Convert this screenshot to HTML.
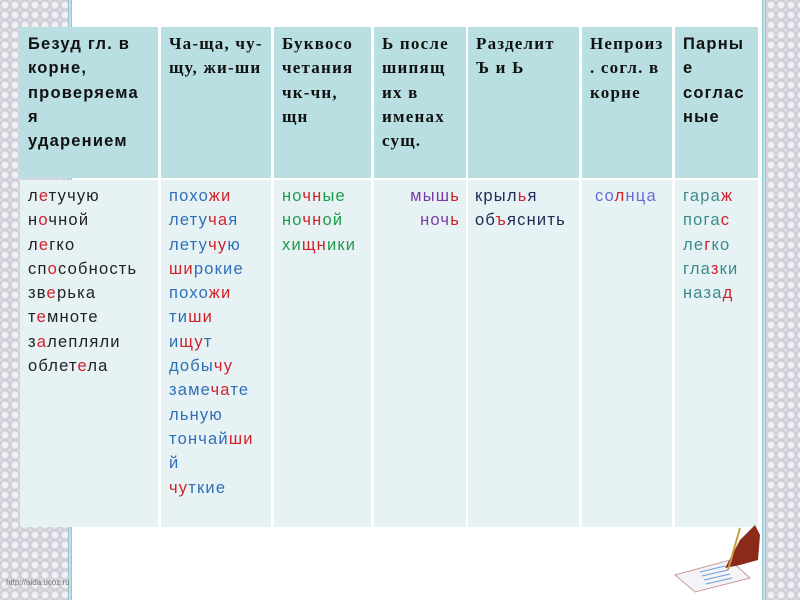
<!DOCTYPE html>
<html><head><meta charset="utf-8"><style>
body{margin:0;width:800px;height:600px;overflow:hidden;background:#fff;position:relative;font-family:"Liberation Sans","DejaVu Sans",sans-serif;}
.strip{position:absolute;top:0;height:600px;background-color:#dcdce4;
background-image:radial-gradient(circle at 50% 50%,#f2f2f6 35%,#c8c8d2 65%,#dcdce4 80%);background-size:10px 10px;}
.line{position:absolute;top:0;height:600px;width:4px;background:linear-gradient(90deg,#7fb9c9,#d7eef3,#7fb9c9);}
.c{position:absolute;box-sizing:border-box;padding:8px 0 0 8px;font-size:16.5px;letter-spacing:1.2px;line-height:24.3px;white-space:nowrap;}
.h{top:27px;height:151px;background:#b9dfe3;color:#111;font-weight:bold;padding-top:5px}
.b{top:180px;height:347px;background:#e7f2f5;padding-top:4px}
.s{font-family:"Liberation Serif",serif;font-size:17px;letter-spacing:1.2px}
.r{color:#d0222a}.bl{color:#2f6fb8}.g{color:#1e9c4a}.p{color:#7a3aa6}.n{color:#1d2a55}.v{color:#6a6ad0}.t{color:#3a8c8a}.k{color:#222}
</style></head><body>
<div class="strip" style="left:0;width:68px"></div>
<div class="line" style="left:68px"></div>
<div class="strip" style="left:766px;width:34px"></div>
<div class="line" style="left:762px"></div>

<div class="c h" style="left:20px;width:138px">Безуд гл. в<br>корне,<br>проверяема<br>я<br>ударением</div>
<div class="c h s" style="left:161px;width:110px">Ча-ща, чу-<br>щу, жи-ши</div>
<div class="c h s" style="left:274px;width:97px">Буквосо<br>четания<br>чк-чн,<br>щн</div>
<div class="c h s" style="left:374px;width:92px">Ь после<br>шипящ<br>их в<br>именах<br>сущ.</div>
<div class="c h s" style="left:468px;width:111px">Разделит<br>Ъ и Ь</div>
<div class="c h s" style="left:582px;width:90px">Непроиз<br>. согл. в<br>корне</div>
<div class="c h" style="left:675px;width:83px">Парны<br>е<br>соглас<br>ные</div>

<div class="c b k" style="left:20px;width:138px">л<span class="r">е</span>тучую<br>н<span class="r">о</span>чной<br>л<span class="r">е</span>гко<br>сп<span class="r">о</span>собность<br>зв<span class="r">е</span>рька<br>т<span class="r">е</span>мноте<br>з<span class="r">а</span>лепляли<br>облет<span class="r">е</span>ла</div>
<div class="c b bl" style="left:161px;width:110px">похо<span class="r">жи</span><br>лету<span class="r">ча</span>я<br>лету<span class="r">чу</span>ю<br><span class="r">ши</span>рокие<br>похо<span class="r">жи</span><br>ти<span class="r">ши</span><br>и<span class="r">щу</span>т<br>добы<span class="r">чу</span><br>заме<span class="r">ча</span>те<br>льную<br>тончай<span class="r">ши</span><br>й<br><span class="r">чу</span>ткие</div>
<div class="c b g" style="left:274px;width:97px">но<span class="r">чн</span>ые<br>но<span class="r">чн</span>ой<br>хи<span class="r">щн</span>ики</div>
<div class="c b p" style="left:374px;width:92px;text-align:right;padding-right:6px">мыш<span class="r">ь</span><br>ноч<span class="r">ь</span></div>
<div class="c b n" style="left:468px;width:111px;padding-left:7px">крыл<span class="r">ь</span>я<br>об<span class="r">ъ</span>яснить</div>
<div class="c b v" style="left:582px;width:90px;padding-left:13px">со<span class="r">л</span>нца</div>
<div class="c b t" style="left:675px;width:83px">гара<span class="r">ж</span><br>пога<span class="r">с</span><br>ле<span class="r">г</span>ко<br>гла<span class="r">з</span>ки<br>наза<span class="r">д</span></div>

<div style="position:absolute;left:6px;top:578px;font-size:8px;color:#777">http://aida.ucoz.ru</div>
<svg style="position:absolute;left:670px;top:520px" width="90" height="75">
<polygon points="5,55 60,40 80,58 25,72" fill="#f4f4f8" stroke="#c99" stroke-width="1"/>
<g stroke="#6aa0d8" stroke-width="1"><line x1="30" y1="52" x2="55" y2="46"/><line x1="32" y1="56" x2="58" y2="50"/><line x1="34" y1="60" x2="60" y2="54"/><line x1="36" y1="64" x2="62" y2="58"/></g>
<path d="M55,48 L70,20 L85,5 L90,15 L88,40 L70,45 Z" fill="#8b2a1a"/>
<line x1="70" y1="8" x2="58" y2="50" stroke="#c8a040" stroke-width="2"/>
</svg>
</body></html>
